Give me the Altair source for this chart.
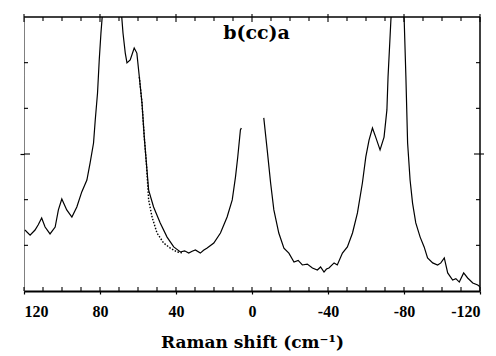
import altair as alt
import pandas as pd

# Raman spectrum, b(cc)a geometry; intensity in arbitrary units (0-120 full scale)
stokes_shift = [119.5, 116.8, 114.2, 112.5, 110.7, 108.9, 106.3, 103.6, 101.9, 100.1,
                97.5, 94.8, 92.2, 89.6, 86.9, 85.2, 83.4, 82.5, 81.3, 80.4, 79.5,
                78.9, 77, 75, 73, 71, 69.5, 68.5, 67.9, 66.7, 65.8, 64.1, 62.0, 60.6,
                59.3, 57.9, 56.7, 55.6, 54.4, 51.8, 48.3, 44.7, 41.2, 37.7, 35.5, 33.3,
                31.5, 29.8, 27.2, 25.5, 23.6, 20.1, 16.6, 13.1, 10.4, 8.7, 7.5, 6.1,
                5.6]
stokes_int = [26.7, 24.5, 26.7, 29.0, 32.0, 28.0, 25.0, 28.0, 35.5, 40.3, 35.5, 32.4,
              36.8, 43.4, 48.6, 56.1, 64.8, 74.9, 86.7, 101.2, 113.0, 119.4, 132, 145,
              150, 145, 132, 119.4, 113.0, 104.2, 99.9, 101.2, 106.4, 104.2, 93.7,
              82.3, 67.4, 56.1, 44.2, 36.8, 29.8, 23.6, 19.3, 17.1, 17.6, 16.6, 17.4,
              18.0, 16.6, 17.8, 18.8, 21.0, 25.4, 32.4, 39.9, 49.9, 58.7, 70.5, 71.4]

# second scan (dotted) where it departs from the first one
second_shift = [59.3, 57.9, 56.7, 55.6, 54.4, 52.6, 50.0, 46.5, 43.0, 39.5, 36.0]
second_int = [93.7, 82.3, 67.4, 56.1, 39.9, 32.4, 25.4, 21.0, 18.8, 17.1, 16.6]

anti_shift = [-6.2, -8.0, -9.8, -11.5, -14.1, -16.8, -19.4, -22.1, -24.3, -26.5, -29.1,
              -31.8, -34.4, -36.1, -37.9, -39.2, -40.5, -43.2, -44.9, -47.6, -50.2,
              -52.9, -55.5, -58.1, -59.9, -61.6, -63.4, -65.1, -67.4, -69.5, -71.0,
              -71.6, -72.5, -73.1, -74.5, -76.5, -78.5, -80.1, -81.0, -81.9, -83.2,
              -84.5, -86.2, -88.5, -90.6, -92.4, -95.1, -97.7, -99.4, -101.2, -103.0,
              -105.6, -107.3, -109.1, -111.4, -113.5, -116.2, -118.8, -120]
anti_int = [75.8, 61.8, 47.3, 35.5, 25.4, 18.8, 16.6, 12.7, 13.4, 11.4, 11.8, 10.1,
            9.2, 10.5, 8.3, 9.6, 10.1, 12.3, 11.4, 16.6, 19.3, 25.4, 34.2, 47.3, 58.7,
            66.1, 71.4, 67.4, 61.8, 67.4, 79.3, 93.7, 108.6, 118.7, 135, 150, 135,
            118.7, 93.7, 64.8, 48.6, 38.5, 29.8, 23.6, 19.3, 14.5, 12.3, 11.4, 12.3,
            14.5, 7.9, 4.8, 5.4, 3.9, 7.9, 5.7, 3.5, 2.6, 1.8]

major_x = [120, 80, 40, 0, -40, -80, -120]
minor_x = [110, 100, 90, 70, 60, 50, 30, 20, 10, -10, -20, -30, -50, -60, -70,
           -90, -100, -110]
major_y = [60]
minor_y = [20, 40, 80, 100]

W, H = 456, 274
SERIF = "Liberation Serif"
WIDE_SERIF = "DejaVu Serif"

xs = alt.Scale(domain=[120, -120], nice=False, zero=False)
ys = alt.Scale(domain=[0, 120], nice=False, zero=False)

main = pd.DataFrame({"shift": stokes_shift + anti_shift,
                     "intensity": stokes_int + anti_int,
                     "branch": ["stokes"] * len(stokes_shift) + ["anti"] * len(anti_shift)})
second = pd.DataFrame({"shift": second_shift, "intensity": second_int})

x_axis = alt.Axis(values=major_x, labelFont=SERIF, labelFontSize=16, labelFontWeight="bold",
                  labelColor="black", labelPadding=9, tickSize=3, tickColor="black",
                  tickWidth=1.2, domainColor="black", domainWidth=2, grid=False,
                  title="Raman shift (cm⁻¹)", titleFont=WIDE_SERIF, titleFontSize=17,
                  titleFontWeight="bold", titleColor="black", titlePadding=15,
                  labelExpr="datum.value")
y_axis = alt.Axis(values=major_y, labels=False, tickSize=4, tickColor="black",
                  tickWidth=1.2, domainColor="black", domainWidth=1, domainDash=[1, 1],
                  grid=False, title=None)

spectrum = alt.Chart(main).mark_line(color="black", strokeWidth=1.2, clip=True).encode(
    x=alt.X("shift:Q", scale=xs, axis=x_axis),
    y=alt.Y("intensity:Q", scale=ys, axis=y_axis),
    detail="branch:N",
)

dotted = alt.Chart(second).mark_line(color="black", strokeWidth=1.4,
                                     strokeDash=[1.5, 1.6], clip=True).encode(
    x=alt.X("shift:Q", scale=xs),
    y=alt.Y("intensity:Q", scale=ys),
)

# top and right edges of the frame
frame_src = pd.DataFrame({"k": [0]})
top_edge = alt.Chart(frame_src).mark_rule(color="black", strokeWidth=1.6).encode(
    x=alt.value(0), x2=alt.value(W), y=alt.value(0))
right_edge = alt.Chart(frame_src).mark_rule(color="black", strokeWidth=1.5).encode(
    x=alt.value(W), y=alt.value(0), y2=alt.value(H))

# tick marks on all four sides (major ones cross the frame)
xt_minor = pd.DataFrame({"t": minor_x})
xt_major = pd.DataFrame({"t": major_x})
yt_minor = pd.DataFrame({"t": minor_y})
yt_major = pd.DataFrame({"t": major_y})
TICK = dict(color="black", strokeWidth=1.1)

bottom_minor = alt.Chart(xt_minor).mark_rule(**TICK).encode(
    x=alt.X("t:Q", scale=xs), y=alt.value(H), y2=alt.value(H - 4))
bottom_major = alt.Chart(xt_major).mark_rule(**TICK).encode(
    x=alt.X("t:Q", scale=xs), y=alt.value(H), y2=alt.value(H - 4))
top_minor = alt.Chart(xt_minor).mark_rule(**TICK).encode(
    x=alt.X("t:Q", scale=xs), y=alt.value(0), y2=alt.value(4))
top_major = alt.Chart(xt_major).mark_rule(**TICK).encode(
    x=alt.X("t:Q", scale=xs), y=alt.value(-3), y2=alt.value(5))
left_minor = alt.Chart(yt_minor).mark_rule(**TICK).encode(
    y=alt.Y("t:Q", scale=ys), x=alt.value(0), x2=alt.value(4))
left_major = alt.Chart(yt_major).mark_rule(**TICK).encode(
    y=alt.Y("t:Q", scale=ys), x=alt.value(0), x2=alt.value(6))
right_minor = alt.Chart(yt_minor).mark_rule(**TICK).encode(
    y=alt.Y("t:Q", scale=ys), x=alt.value(W), x2=alt.value(W - 4))
right_major = alt.Chart(yt_major).mark_rule(**TICK).encode(
    y=alt.Y("t:Q", scale=ys), x=alt.value(W + 4), x2=alt.value(W - 6))

label = alt.Chart(pd.DataFrame({"s": [-2.4], "i": [110.4], "txt": ["b(cc)a"]})).mark_text(
    font=WIDE_SERIF, fontSize=19, fontWeight="bold", color="black",
    baseline="alphabetic", align="center").encode(
    x=alt.X("s:Q", scale=xs), y=alt.Y("i:Q", scale=ys), text="txt:N")

chart = alt.layer(spectrum, dotted, top_edge, right_edge, bottom_minor, bottom_major,
                  top_minor, top_major, left_minor, left_major, right_minor,
                  right_major, label).properties(
    width=W, height=H,
    autosize=alt.AutoSizeParams(type="none"),
    padding={"left": 24, "top": 17, "right": 16, "bottom": 65},
    background="white",
).configure_view(stroke=None)

chart.save("out.html", embed_options={"renderer": "svg", "actions": False})
